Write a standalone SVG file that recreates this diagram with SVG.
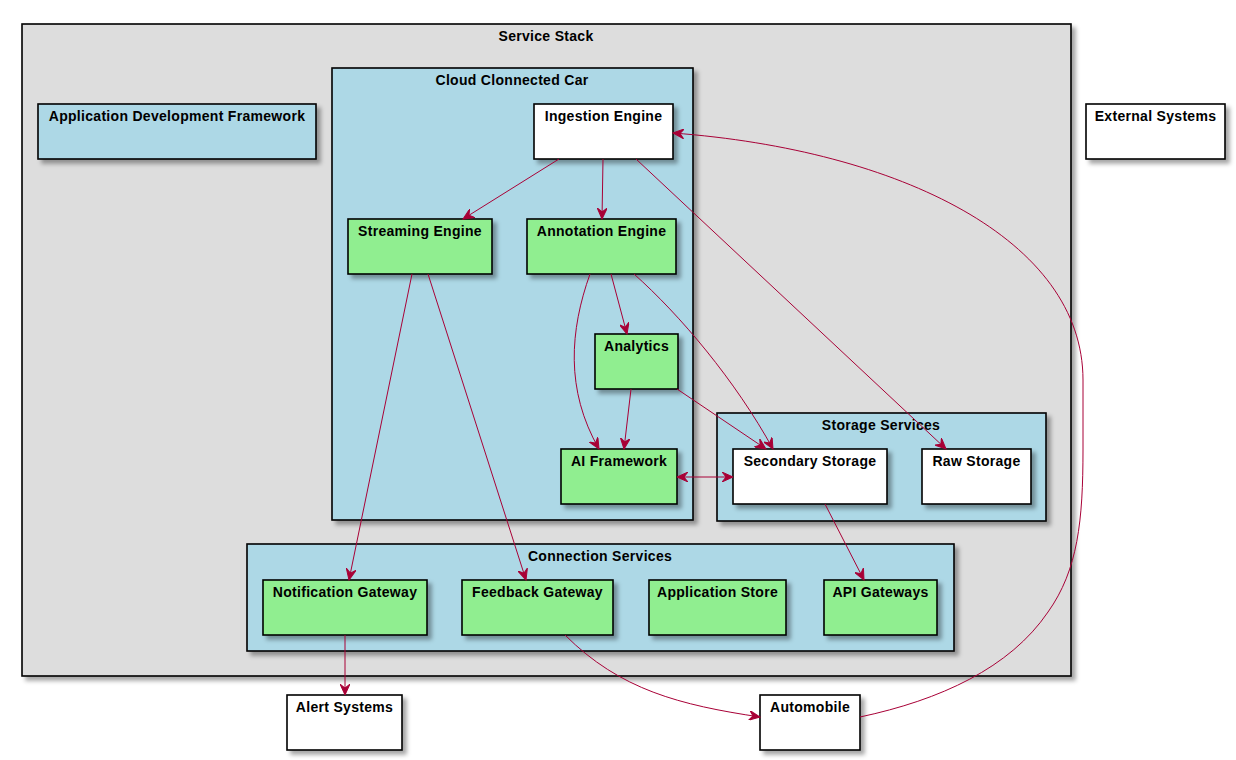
<svg xmlns="http://www.w3.org/2000/svg" width="1236" height="760" viewBox="0 0 1236 760">
<style>
text{font-family:"Liberation Sans",Arial,sans-serif;font-weight:bold;font-size:14px;letter-spacing:0.3px;text-anchor:middle;fill:#000}
.box{stroke:#000;stroke-width:1.6;filter:url(#sh)}
.stack{fill:#DDDDDD}
.blue{fill:#ADD8E6}
.green{fill:#90EE90}
.white{fill:#FFFFFF}
.edge{fill:none;stroke:#A80036;stroke-width:1}
</style>
<defs>
<filter id="sh" x="-10%" y="-10%" width="130%" height="130%">
<feDropShadow dx="4" dy="4" stdDeviation="2" flood-color="#000" flood-opacity="0.35"/>
</filter>
<marker id="ah" viewBox="0 0 12 10" refX="11" refY="5" markerWidth="12" markerHeight="10" markerUnits="userSpaceOnUse" orient="auto-start-reverse">
<path d="M0,0 L11,5 L0,10 L4,5 Z" fill="#A80036" stroke="#A80036" stroke-width="1"/>
</marker>
</defs>
<g id="service-stack">
<rect class="box stack" x="22" y="24" width="1049" height="652"/>
<text x="546" y="41">Service Stack</text>
</g>
<g id="cloud-car">
<rect class="box blue" x="332" y="68" width="361" height="452"/>
<text x="512" y="85">Cloud Clonnected Car</text>
</g>
<g id="storage-services">
<rect class="box blue" x="717" y="413" width="329" height="108"/>
<text x="881" y="430">Storage Services</text>
</g>
<g id="connection-services">
<rect class="box blue" x="247" y="544" width="707" height="107"/>
<text x="600" y="561">Connection Services</text>
</g>
<g id="app-dev-framework">
<rect class="box blue" x="38" y="104" width="278" height="55"/>
<text x="177" y="121">Application Development Framework</text>
</g>
<g id="ingestion-engine">
<rect class="box white" x="534" y="104" width="139" height="55"/>
<text x="603.5" y="121">Ingestion Engine</text>
</g>
<g id="streaming-engine">
<rect class="box green" x="348" y="219" width="144" height="55"/>
<text x="420" y="236">Streaming Engine</text>
</g>
<g id="annotation-engine">
<rect class="box green" x="527" y="219" width="149" height="55"/>
<text x="601.5" y="236">Annotation Engine</text>
</g>
<g id="analytics">
<rect class="box green" x="595" y="334" width="83" height="55"/>
<text x="636.5" y="351">Analytics</text>
</g>
<g id="ai-framework">
<rect class="box green" x="561" y="449" width="116" height="55"/>
<text x="619" y="466">AI Framework</text>
</g>
<g id="secondary-storage">
<rect class="box white" x="733" y="449" width="154" height="55"/>
<text x="810" y="466">Secondary Storage</text>
</g>
<g id="raw-storage">
<rect class="box white" x="922" y="449" width="109" height="55"/>
<text x="976.5" y="466">Raw Storage</text>
</g>
<g id="notification-gateway">
<rect class="box green" x="263" y="580" width="164" height="55"/>
<text x="345" y="597">Notification Gateway</text>
</g>
<g id="feedback-gateway">
<rect class="box green" x="462" y="580" width="151" height="55"/>
<text x="537.5" y="597">Feedback Gateway</text>
</g>
<g id="application-store">
<rect class="box green" x="649" y="580" width="137" height="55"/>
<text x="717.5" y="597">Application Store</text>
</g>
<g id="api-gateways">
<rect class="box green" x="824" y="580" width="113" height="55"/>
<text x="880.5" y="597">API Gateways</text>
</g>
<g id="external-systems">
<rect class="box white" x="1086" y="104" width="139" height="55"/>
<text x="1155.5" y="121">External Systems</text>
</g>
<g id="alert-systems">
<rect class="box white" x="287" y="695" width="115" height="55"/>
<text x="344.5" y="712">Alert Systems</text>
</g>
<g id="automobile">
<rect class="box white" x="760" y="695" width="100" height="55"/>
<text x="810" y="712">Automobile</text>
</g>
<g id="connectors">
<path class="edge" marker-end="url(#ah)" d="M559,159 L463,219"/>
<path class="edge" marker-end="url(#ah)" d="M603,159 L602,219"/>
<path class="edge" marker-end="url(#ah)" d="M636,159 L946,449"/>
<path class="edge" marker-end="url(#ah)" d="M611,274 L627,334"/>
<path class="edge" marker-end="url(#ah)" d="M590,274 C570,330 565,390 599,449"/>
<path class="edge" marker-end="url(#ah)" d="M634,274 C680,315 735,380 773,449"/>
<path class="edge" marker-end="url(#ah)" d="M631,389 L624,449"/>
<path class="edge" marker-end="url(#ah)" d="M677,389 L766,449"/>
<path class="edge" marker-start="url(#ah)" marker-end="url(#ah)" d="M677,477 L733,477"/>
<path class="edge" marker-end="url(#ah)" d="M412,274 L349,580"/>
<path class="edge" marker-end="url(#ah)" d="M428,274 L526,580"/>
<path class="edge" marker-end="url(#ah)" d="M825,504 L864,580"/>
<path class="edge" marker-end="url(#ah)" d="M345,635 L345,695"/>
<path class="edge" marker-end="url(#ah)" d="M565,635 C620,690 680,705 760,717"/>
<path class="edge" marker-end="url(#ah)" d="M860,717 C940,700 1010,668 1048,612 C1078,570 1083,520 1083,450 L1083,380 C1083,240 900,150 673,133"/>
</g>
</svg>
